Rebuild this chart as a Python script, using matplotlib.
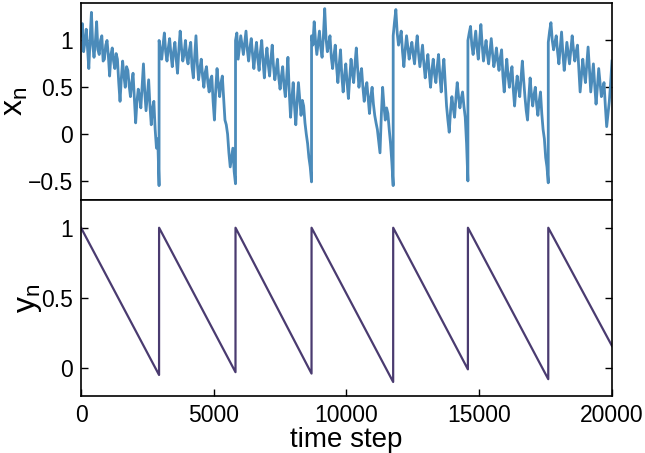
import numpy as np
import matplotlib.pyplot as plt

plt.rcParams['font.family'] = ['Liberation Sans', 'DejaVu Sans']

# reset times (time steps) where the sawtooth jumps back up
resets = [0, 2940, 5819, 8683, 11758, 14573, 17600, 20000]

# y_n: starts at 1 after each reset, falls linearly to these values
y_start = [1.0, 1.0, 1.0, 1.0, 1.0, 1.0, 1.0]
y_end = [-0.05, -0.03, -0.04, -0.10, -0.01, -0.08, 0.157]

# x_n, ~every 50 steps inside each segment
x_seg1 = [1.05, 1.18, 0.88, 0.98, 1.12, 0.92, 0.70, 1.02, 1.30, 0.95,
          0.82, 0.98, 1.20, 0.90, 0.85, 1.00, 1.05, 0.78, 0.80, 0.95,
          1.00, 0.84, 0.62, 0.85, 0.92, 0.78, 0.70, 0.86, 0.80, 0.55,
          0.35, 0.60, 0.78, 0.62, 0.50, 0.72, 0.68, 0.52, 0.40, 0.55,
          0.65, 0.38, 0.12, 0.35, 0.48, 0.40, 0.28, 0.52, 0.75, 0.45,
          0.25, 0.42, 0.58, 0.30, 0.10, 0.28, 0.35, 0.05, -0.15, -0.05,
          -0.55]
x_seg2 = [1.00, 0.90, 0.80, 0.95, 1.08, 0.88, 0.78, 0.92, 1.02, 0.85,
          0.72, 0.88, 0.98, 0.80, 0.65, 0.90, 1.10, 0.92, 0.78, 0.86,
          1.00, 0.82, 0.75, 0.90, 0.98, 0.72, 0.60, 0.82, 1.05, 0.75,
          0.58, 0.70, 0.80, 0.62, 0.50, 0.66, 0.72, 0.55, 0.45, 0.58,
          0.62, 0.35, 0.15, 0.48, 0.70, 0.52, 0.40, 0.55, 0.62, 0.38,
          0.15, 0.10, 0.00, -0.20, -0.35, -0.25, -0.15, -0.40, -0.53]
x_seg3 = [1.00, 1.08, 0.80, 0.92, 1.05, 0.95, 0.85, 0.98, 1.10, 0.90,
          0.78, 0.92, 1.02, 0.85, 0.70, 0.86, 0.98, 0.80, 0.68, 0.88,
          1.00, 0.78, 0.60, 0.80, 0.92, 0.74, 0.62, 0.80, 0.95, 0.72,
          0.58, 0.68, 0.80, 0.60, 0.48, 0.62, 0.72, 0.52, 0.40, 0.60,
          0.82, 0.45, 0.18, 0.38, 0.55, 0.30, 0.10, 0.35, 0.55, 0.38,
          0.20, 0.36, 0.30, 0.12, 0.00, -0.10, -0.25, -0.35, -0.51]
x_seg4 = [1.05, 0.95, 1.20, 1.00, 0.85, 0.98, 1.10, 0.92, 0.82, 1.05,
          1.34, 1.02, 0.88, 0.96, 1.05, 0.82, 0.70, 0.84, 0.95, 0.72,
          0.55, 0.74, 0.90, 0.62, 0.45, 0.62, 0.75, 0.55, 0.38, 0.60,
          0.80, 0.65, 0.55, 0.75, 0.92, 0.70, 0.50, 0.62, 0.70, 0.50,
          0.35, 0.48, 0.55, 0.38, 0.22, 0.40, 0.50, 0.32, 0.20, 0.12,
          0.05, -0.08, -0.20, 0.20, 0.50, 0.30, 0.15, 0.28, 0.22, 0.05,
          -0.10, -0.30, -0.55]
x_seg5 = [1.05, 1.20, 1.33, 1.08, 0.95, 1.02, 1.10, 0.88, 0.72, 0.90,
          1.05, 0.92, 0.80, 0.90, 0.98, 0.85, 0.75, 0.92, 1.05, 0.86,
          0.72, 0.84, 0.95, 0.75, 0.60, 0.74, 0.85, 0.66, 0.50, 0.68,
          0.80, 0.64, 0.55, 0.72, 0.85, 0.62, 0.45, 0.66, 0.80, 0.55,
          0.30, 0.15, 0.02, 0.25, 0.40, 0.28, 0.18, 0.38, 0.55, 0.40,
          0.28, 0.38, 0.45, 0.30, 0.18, -0.10, -0.50]
x_seg6 = [1.00, 1.08, 1.15, 0.95, 0.85, 0.98, 1.10, 0.92, 0.80, 1.00,
          1.17, 0.95, 0.78, 0.90, 1.00, 0.85, 0.75, 0.88, 1.02, 0.86,
          0.72, 0.80, 0.92, 0.78, 0.68, 0.82, 0.90, 0.62, 0.45, 0.65,
          0.80, 0.62, 0.50, 0.64, 0.72, 0.48, 0.30, 0.48, 0.62, 0.50,
          0.40, 0.60, 0.78, 0.58, 0.40, 0.25, 0.15, 0.40, 0.60, 0.42,
          0.30, 0.42, 0.50, 0.32, 0.20, 0.35, 0.45, 0.22, 0.05, -0.05,
          -0.25, -0.35, -0.52]
x_seg7 = [0.98, 1.10, 1.19, 1.00, 0.90, 0.98, 1.05, 0.88, 0.75, 0.92,
          1.09, 0.86, 0.68, 0.82, 0.98, 0.86, 0.75, 0.90, 1.05, 0.90,
          0.78, 0.88, 0.95, 0.70, 0.45, 0.62, 0.80, 0.66, 0.55, 0.74,
          0.93, 0.70, 0.45, 0.60, 0.75, 0.52, 0.32, 0.50, 0.70, 0.55,
          0.40, 0.48, 0.55, 0.30, 0.08, 0.22, 0.35, 0.55, 0.78]
x_segs = [x_seg1, x_seg2, x_seg3, x_seg4, x_seg5, x_seg6, x_seg7]

# build the time axis per segment
tx, xx, ty, yy = [], [], [], []
for i, seg in enumerate(x_segs):
    t0, t1 = resets[i], resets[i + 1]
    tx.extend(np.linspace(t0 + 1 if i else t0, t1, len(seg)))
    xx.extend(seg)
    ty.extend([t0 + 1 if i else t0, t1])
    yy.extend([y_start[i], y_end[i]])

fig = plt.figure(figsize=(6.45, 4.53), dpi=100)
ax1 = fig.add_axes([0.1256, 0.5592, 0.8232, 0.4342])
ax2 = fig.add_axes([0.1256, 0.1258, 0.8232, 0.4334], sharex=ax1)

ax1.plot(tx, xx, color='#4b8bba', lw=2.0)
ax2.plot(ty, yy, color='#4a3b70', lw=1.6)

ax1.set_ylim(-0.7, 1.4)
ax1.set_yticks([-0.5, 0, 0.5, 1])
ax1.set_yticklabels(['\u22120.5', '0', '0.5', '1'])
ax2.set_ylim(-0.2, 1.2)
ax2.set_yticks([0, 0.5, 1])
ax2.set_yticklabels(['0', '0.5', '1'])
ax2.set_xlim(0, 20000)
ax2.set_xticks([0, 5000, 10000, 15000, 20000])

for ax in (ax1, ax2):
    ax.tick_params(direction='in', length=5, width=1, labelsize=16.5,
                   left=True, right=True, top=False, pad=6)
    for s in ax.spines.values():
        s.set_linewidth(1.2)
ax1.tick_params(bottom=False, labelbottom=False)

ax1.set_ylabel('x$_\\mathregular{n}$', fontsize=23, labelpad=-2)
ax2.set_ylabel('y$_\\mathregular{n}$', fontsize=23, labelpad=-2)
ax2.set_xlabel('time step', fontsize=20, labelpad=0)

fig.savefig('out.png', dpi=100)
